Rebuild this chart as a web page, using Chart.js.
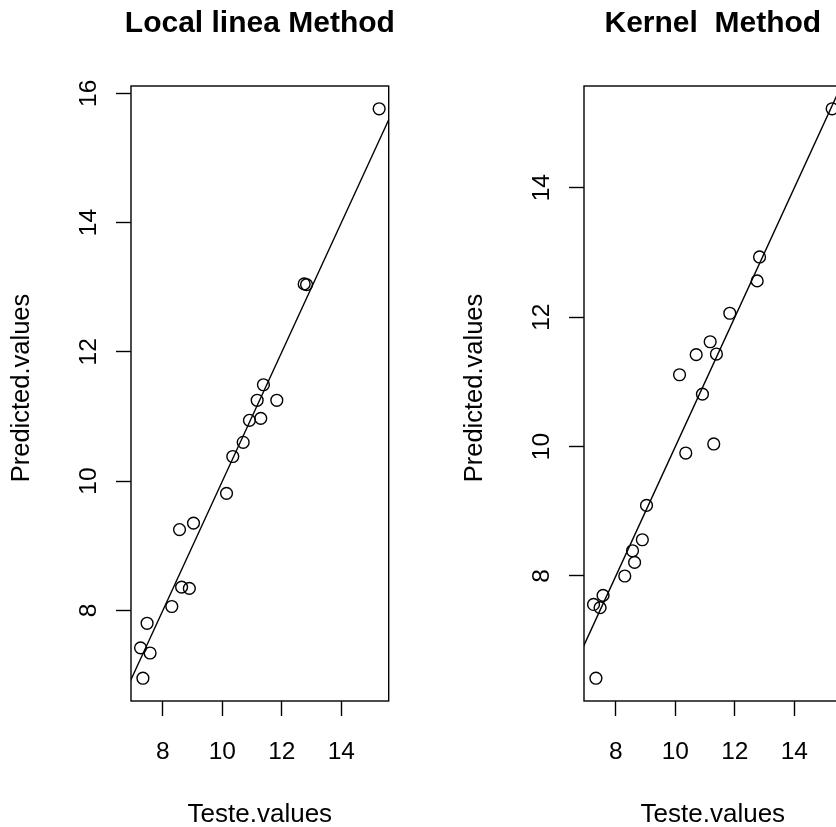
<!DOCTYPE html>
<html>
<head>
<meta charset="utf-8">
<title>Predicted vs Teste values</title>
<script src="https://cdn.jsdelivr.net/npm/chart.js@4.4.0/dist/chart.umd.min.js"></script>
<style>
  html, body { margin: 0; padding: 0; background: #fff; overflow: hidden; }
  #page { position: relative; width: 836px; height: 827px; overflow: hidden; }
  .panel { position: absolute; top: 0; width: 418px; height: 827px; }
  #left-panel { left: 0; }
  #right-panel { left: 453px; }
</style>
</head>
<body>
<div id="page">
  <div class="panel" id="left-panel"><canvas id="localChart" width="418" height="827"></canvas></div>
  <div class="panel" id="right-panel"><canvas id="kernelChart" width="418" height="827"></canvas></div>
</div>
<script>
// ---------------------------
// DATA
// ---------------------------
const testeValues = [7.25, 7.33, 7.47, 7.57, 8.30, 8.56, 8.63, 8.89, 9.03, 10.14,
                     10.35, 10.70, 10.91, 11.17, 11.29, 11.38, 11.83, 12.75, 12.83, 15.27];
const localPredicted = [7.42, 6.95, 7.80, 7.34, 8.06, 9.25, 8.36, 8.34, 9.35, 9.81,
                        10.38, 10.60, 10.94, 11.25, 10.97, 11.49, 11.25, 13.05, 13.04, 15.76];
const kernelPredicted = [7.56, 6.42, 7.51, 7.70, 8.00, 8.39, 8.21, 8.56, 9.09, 11.11,
                         9.90, 11.42, 10.81, 11.62, 10.04, 11.43, 12.06, 12.56, 12.93, 15.22];

const xTicks = [8, 10, 12, 14];
const localYTicks = [8, 10, 12, 14, 16];
const kernelYTicks = [8, 10, 12, 14];

// y = x reference line, clipped to the plot box
const refLine = [5, 17];

const xLabel = 'Teste.values';
const yLabel = 'Predicted.values';

const FONT = '"Liberation Sans", Arial, Helvetica, sans-serif';
const LW = 1.4;

// axis limits the way base R pads them (4% each side)
function padRange(v) {
  const lo = Math.min(...v), hi = Math.max(...v);
  const pad = (hi - lo) * 0.04;
  return [lo - pad, hi + pad];
}

// ---------------------------
// BOX, TITLES AND ROTATED Y LABELS
// ---------------------------
const rFrame = {
  id: 'rFrame',
  afterDraw(chart, args, opts) {
    const { ctx, chartArea: a, scales } = chart;
    const cx = (a.left + a.right) / 2;
    ctx.save();
    ctx.strokeStyle = '#000';
    ctx.lineWidth = LW;
    ctx.strokeRect(a.left, a.top, a.right - a.left, a.bottom - a.top);

    ctx.fillStyle = '#000';
    ctx.textAlign = 'center';
    ctx.textBaseline = 'alphabetic';
    ctx.font = 'bold 30px ' + FONT;
    ctx.fillText(opts.title, cx, 32);

    ctx.font = '26px ' + FONT;
    ctx.fillText(xLabel, cx, 822);

    // y tick labels run along the axis
    ctx.font = '24.5px ' + FONT;
    scales.y.ticks.forEach(t => {
      const py = scales.y.getPixelForValue(t.value);
      ctx.save();
      ctx.translate(96, py);
      ctx.rotate(-Math.PI / 2);
      ctx.fillText(String(t.value), 0, 0);
      ctx.restore();
    });

    ctx.font = '25.5px ' + FONT;
    ctx.translate(28.5, 388);
    ctx.rotate(-Math.PI / 2);
    ctx.fillText(yLabel, 0, 0);
    ctx.restore();
  }
};

function makePanel(canvasId, title, predicted, yTicks) {
  const xLim = padRange(testeValues);
  const yLim = padRange(predicted);
  const tickGrid = {
    drawOnChartArea: false,
    drawTicks: true,
    tickLength: 15,
    tickColor: '#000',
    tickWidth: LW
  };

  return new Chart(document.getElementById(canvasId), {
    type: 'scatter',
    data: {
      datasets: [{
        data: testeValues.map((x, i) => ({ x, y: predicted[i] })),
        showLine: false,
        pointStyle: 'circle',
        pointRadius: 5.9,
        pointBorderWidth: 1.4,
        pointBackgroundColor: 'rgba(0,0,0,0)',
        pointBorderColor: '#000',
        clip: false
      }, {
        type: 'line',
        data: refLine.map(v => ({ x: v, y: v })),
        borderColor: '#000',
        borderWidth: LW,
        pointRadius: 0,
        tension: 0,
        clip: 0
      }]
    },
    options: {
      responsive: false,
      animation: false,
      events: [],
      layout: { padding: { top: 86, right: 29.3, bottom: 0, left: 0 } },
      plugins: {
        legend: { display: false },
        tooltip: { enabled: false },
        rFrame: { title }
      },
      scales: {
        x: {
          type: 'linear',
          position: 'bottom',
          min: xLim[0],
          max: xLim[1],
          afterBuildTicks: s => { s.ticks = xTicks.map(v => ({ value: v })); },
          afterFit: s => { s.height = 126; },
          grid: tickGrid,
          border: { display: false },
          ticks: {
            color: '#000',
            font: { family: FONT, size: 24.5 },
            padding: 22,
            maxRotation: 0,
            minRotation: 0,
            autoSkip: false
          }
        },
        y: {
          type: 'linear',
          position: 'left',
          min: yLim[0],
          max: yLim[1],
          afterBuildTicks: s => { s.ticks = yTicks.map(v => ({ value: v })); },
          afterFit: s => { s.width = 131; },
          grid: tickGrid,
          border: { display: false },
          ticks: { display: false }
        }
      }
    },
    plugins: [rFrame]
  });
}

makePanel('localChart', 'Local linea Method', localPredicted, localYTicks);
makePanel('kernelChart', 'Kernel  Method', kernelPredicted, kernelYTicks);
</script>
</body>
</html>
